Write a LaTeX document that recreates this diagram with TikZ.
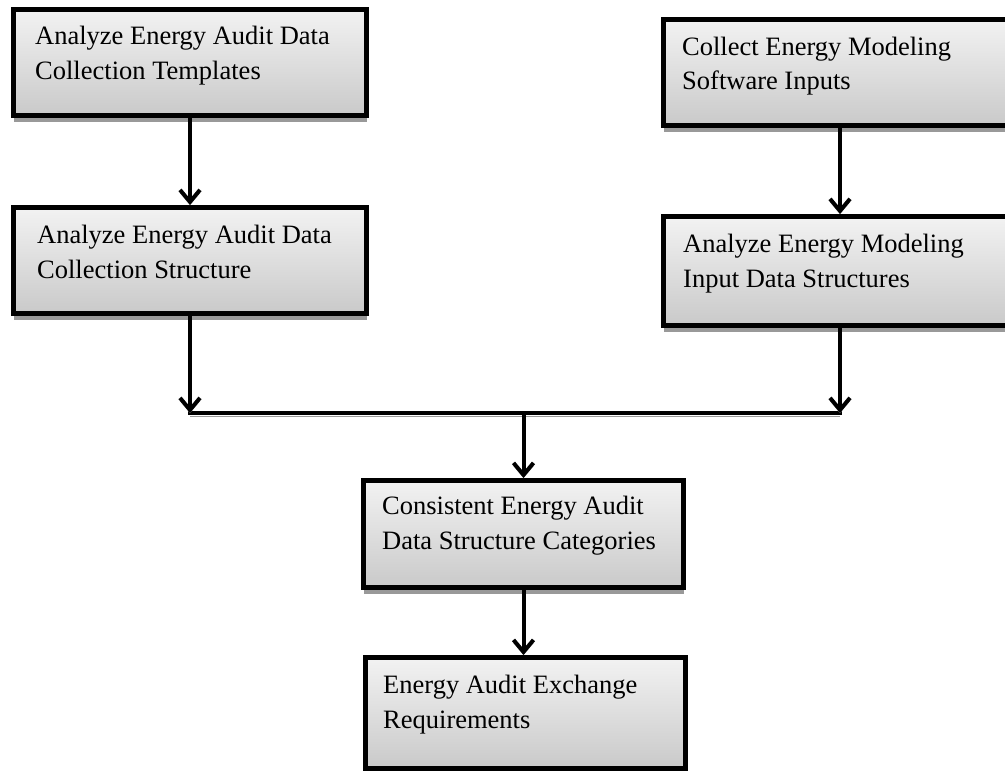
\documentclass[tikz,border=0pt]{standalone}
\usepackage{fontspec}
\setmainfont{Liberation Serif}
\usetikzlibrary{arrows.meta,shadows}
\begin{document}
\begin{tikzpicture}[x=1pt,y=-1pt,
  box/.style={draw=black, line width=5pt, top color=gray!10, bottom color=gray!42,
    anchor=north west, inner sep=0pt,
    drop shadow={shadow xshift=0pt, shadow yshift=-6pt, fill=black!40, opacity=1}},
  wide/.style={minimum width=353pt},
  narrow/.style={minimum width=320pt},
  lbl/.style={anchor=base west, inner sep=0pt, font=\fontsize{26.5}{35}\selectfont},
  shadowline/.style={preaction={draw=black!40, transform canvas={yshift=-3pt}}},
  conn/.style={line width=4pt, -{Straight Barb[length=12pt,width=20pt]}, shadowline},
  bar/.style={line width=4pt, line cap=rect, shadowline},
]
\useasboundingbox (0,0) rectangle (1005,771);
\clip (0,0) rectangle (1005,771);

% process boxes
\node[box, wide, minimum height=106pt] (b1) at (11,7) {};
\node[box, wide, minimum height=106pt] (b2) at (11,205) {};
\node[box, wide, minimum height=106pt] (b3) at (661,17) {};
\node[box, wide, minimum height=109pt] (b4) at (661,214) {};
\node[box, narrow, minimum height=107pt] (b5) at (361,478) {};
\node[box, narrow, minimum height=111pt] (b6) at (363,655) {};

% box captions
\node[lbl] (t1) at (35,45) {\parbox[t]{320pt}{Analyze Energy Audit Data\\Collection Templates}};
\node[lbl] (t2) at (37,243) {\parbox[t]{320pt}{Analyze Energy Audit Data\\Collection Structure}};
\node[lbl] (t3) at (682,55) {\parbox[t]{320pt}{Collect Energy Modeling\\Software Inputs}};
\node[lbl] (t4) at (683,252) {\parbox[t]{320pt}{Analyze Energy Modeling\\Input Data Structures}};
\node[lbl] (t5) at (382,514) {\parbox[t]{300pt}{Consistent Energy Audit\\Data Structure Categories}};
\node[lbl] (t6) at (383,693) {\parbox[t]{300pt}{Energy Audit Exchange\\Requirements}};

% merge points on the joining bar
\coordinate (jl) at (b2.south |- 0,413);
\coordinate (jr) at (b4.south |- 0,413);
\coordinate (jc) at (b5.north |- 0,413);

% connectors
\draw[conn] (b1.south) -- (b1.south |- b2.north);
\draw[conn] (b3.south) -- (b3.south |- b4.north);
\draw[bar] (jl) -- (jr);
\draw[conn] (b2.south) -- (jl);
\draw[conn] (b4.south) -- (jr);
\draw[conn] (jc) -- (b5.north);
\draw[conn] (b5.south) -- (b5.south |- b6.north);
\end{tikzpicture}
\end{document}
